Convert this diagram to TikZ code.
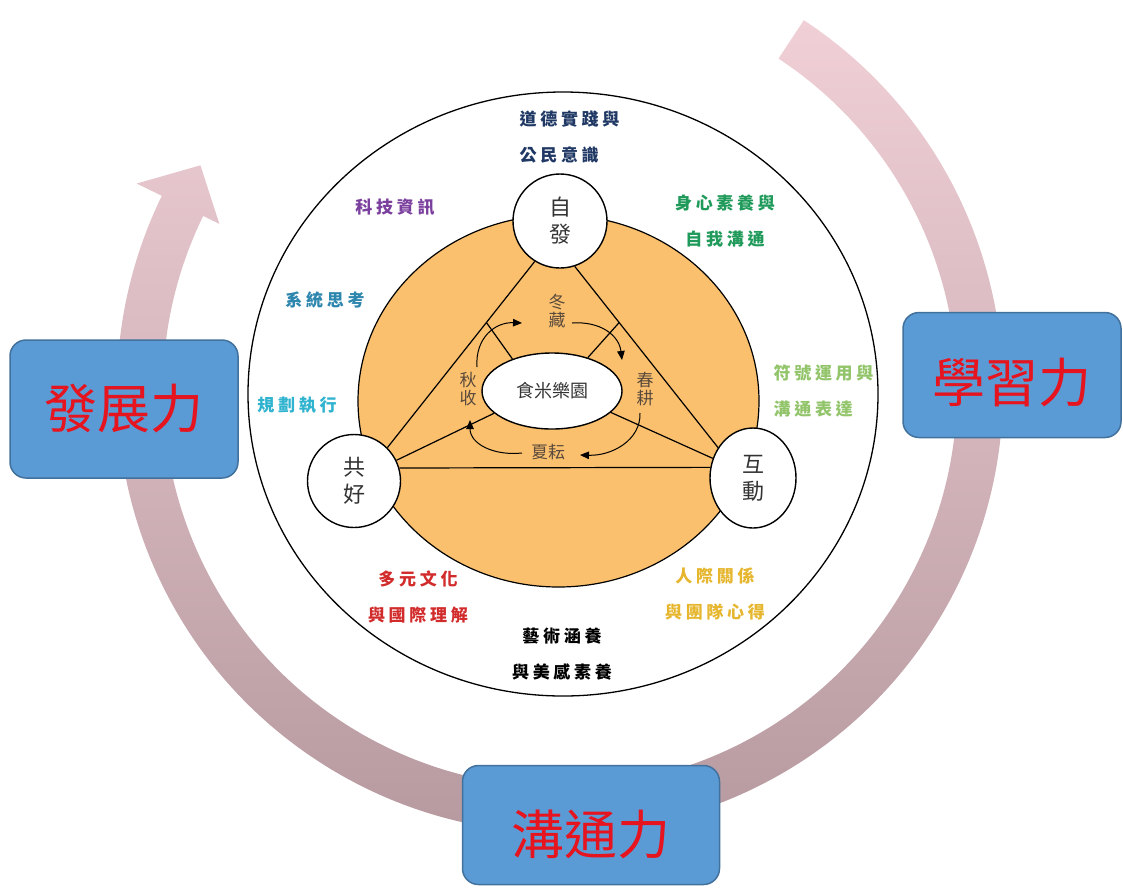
\documentclass[tikz,border=0pt]{standalone}
\usepackage{fontspec}
\setmainfont{Noto Sans CJK TC}
\newfontfamily\lblfont[LetterSpace=22]{Noto Sans CJK TC}
\usetikzlibrary{arrows.meta,calc,shapes.geometric}

\definecolor{ringorange}{RGB}{250,192,110}
\definecolor{boxblue}{RGB}{91,155,213}
\definecolor{boxedge}{RGB}{65,113,156}
\definecolor{powerred}{RGB}{230,20,30}
\definecolor{bandlight}{RGB}{240,208,214}
\definecolor{banddark}{RGB}{178,150,156}
\definecolor{seasonbrown}{RGB}{90,74,60}
\definecolor{navylbl}{RGB}{32,56,100}
\definecolor{techpurple}{RGB}{123,63,158}
\definecolor{bodygreen}{RGB}{31,154,90}
\definecolor{sysblue}{RGB}{45,134,173}
\definecolor{plancyan}{RGB}{47,179,207}
\definecolor{symgreen}{RGB}{146,196,106}
\definecolor{culred}{RGB}{210,43,43}
\definecolor{teamgold}{RGB}{230,182,46}

\tikzset{
  hub/.style={draw, line width=1.4pt, fill=white, inner sep=0pt, align=center,
    text=black!80, font=\fontsize{22}{27}\selectfont},
  powerbox/.style={draw=boxedge, line width=1.5pt, fill=boxblue, rounded corners=16pt,
    text=powerred, font=\fontsize{53}{53}\selectfont},
  season/.style={text=seasonbrown, align=center, inner sep=1pt,
    font=\fontsize{17}{17.5}\selectfont},
  lbl/.style={align=center, font=\lblfont\bfseries\fontsize{17}{36}\selectfont},
  edge/.style={line width=1.2pt},
  cyclearrow/.style={line width=1pt, -{Triangle[length=9pt,width=7.5pt]}}
}

\begin{document}
\begin{tikzpicture}[x=1pt,y=1pt,yscale=-1]
\useasboundingbox (0,0) rectangle (1123,887);

% big circular arrow
\begin{scope}[shift={(560,390)}]
\shade[top color=bandlight, bottom color=banddark]
  (-56.6:443) arc[start angle=-56.6, end angle=206, radius=443]
  -- (206:471) -- (212:424) -- (206:379) -- (206:397)
  arc[start angle=206, end angle=-56.6, radius=397] -- cycle;
\end{scope}

% the three powers
\node[powerbox, minimum width=228, minimum height=138] (fazhan) at (124,409) {發展力};
\node[powerbox, minimum width=218, minimum height=125,
  text height=54pt, text depth=0pt] (xuexi) at (1012,375) {學習力};
\node[powerbox, minimum width=257, minimum height=119,
  text height=58pt, text depth=0pt] (goutong) at (591,825) {溝通力};

% rings
\draw[line width=1.3pt, fill=white] (563,394) ellipse [x radius=315, y radius=302];
\draw[line width=1.2pt, fill=ringorange] (558.5,401) ellipse [x radius=200.5, y radius=186];

% hubs
\node[hub, circle, minimum size=94] (zifa) at (560,221) {自\\發};
\node[hub, circle, minimum size=93] (gonghao) at (354,481) {共\\好};
\node[hub, ellipse, minimum width=86, minimum height=100] (hudong) at (753,478) {互\\動};
\node[hub, ellipse, minimum width=140, minimum height=76,
  font=\fontsize{18}{18}\selectfont] (farm) at (552,391) {食米樂園};

% triangle and spokes
\draw[edge] (zifa.238) -- (gonghao.45);
\draw[edge] (zifa.288) -- (hudong.139);
\draw[edge] (gonghao.16) -- (hudong.166);
\draw[edge] (farm.201.6) -- (gonghao.26.6);
\draw[edge] (farm.340.8) -- (hudong.154);
\coordinate (ltick) at ($(zifa.238)!0.328!(gonghao.45)$);
\coordinate (rtick) at ($(zifa.288)!0.31!(hudong.139)$);
\draw[edge] (farm.141.8) -- (ltick);
\draw[edge] (farm.43.2) -- (rtick);

% seasons
\node[season] (dongcang) at (557,311) {冬\\藏};
\node[season] (chungeng) at (645,389) {春\\耕};
\node[season] (xiayun) at (548,452) {夏耘};
\node[season] (qiushou) at (468,389) {秋\\收};

\coordinate (qiu-out) at (477,367);  \coordinate (dong-in) at (522,323);
\coordinate (dong-out) at (572,323); \coordinate (chun-in) at (622,360);
\coordinate (chun-out) at (640,413); \coordinate (xia-in) at (580,455);
\coordinate (xia-out) at (522,453);  \coordinate (qiu-in) at (470,420);
\draw[cyclearrow] (qiu-out) .. controls (475,338) and (495,322) .. (dong-in);
\draw[cyclearrow] (dong-out) .. controls (600,321) and (619,335) .. (chun-in);
\draw[cyclearrow] (chun-out) .. controls (641,440) and (612,456) .. (xia-in);
\draw[cyclearrow] (xia-out) .. controls (494,456) and (470,444) .. (qiu-in);

% core competencies
\node[lbl, text=navylbl, align=left, anchor=west] (daode) at (516,137) {道德實踐與\\公民意識};
\node[lbl, text=techpurple] (keji) at (395,207) {科技資訊};
\node[lbl, text=bodygreen] (shenxin) at (725,221) {身心素養與\\自我溝通};
\node[lbl, text=sysblue] (xitong) at (325,300) {系統思考};
\node[lbl, text=plancyan] (guihua) at (297,405) {規劃執行};
\node[lbl, text=symgreen, align=left, anchor=west] (fuhao) at (770,391) {符號運用與\\溝通表達};
\node[lbl, text=culred] (duoyuan) at (418,597) {多元文化\\與國際理解};
\node[lbl, text=teamgold] (renji) at (715,594) {人際關係\\與團隊心得};
\node[lbl, text=black] (yishu) at (562,654) {藝術涵養\\與美感素養};
\end{tikzpicture}
\end{document}
